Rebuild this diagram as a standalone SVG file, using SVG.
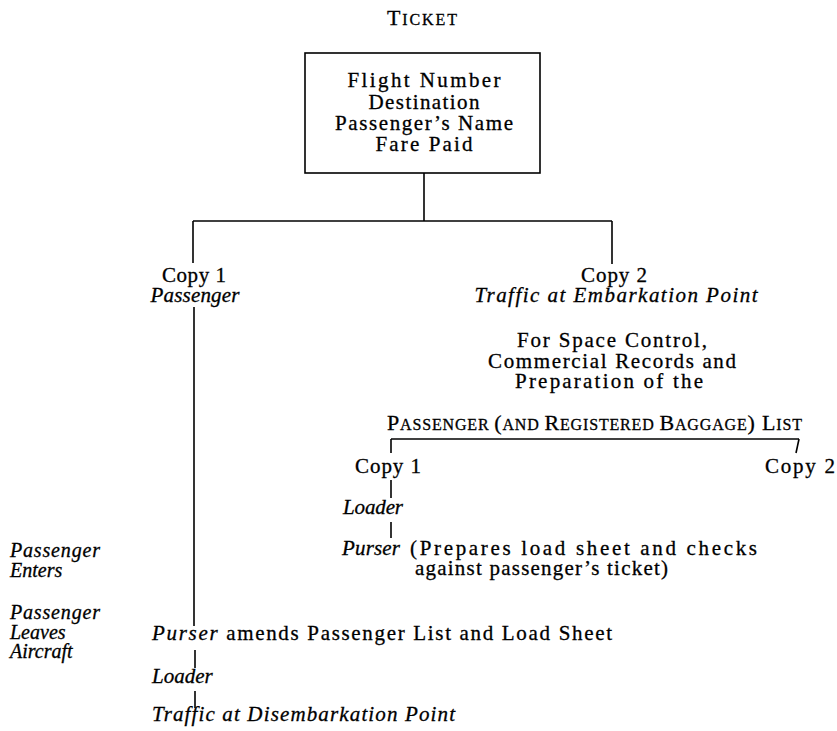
<svg xmlns="http://www.w3.org/2000/svg" width="837" height="731" viewBox="0 0 837 731">
<style>
text{font-family:"Liberation Serif","Times New Roman",serif;font-size:21px;fill:#000;stroke:#000;stroke-width:0.3;}
.it{font-style:italic;}
.c{text-anchor:middle;}
.sc{font-size:16px;}
.cap{font-size:22px;}
.side{font-size:20px;}
.ln{stroke:#000;stroke-width:1.6;fill:none;}
</style>
<rect width="837" height="731" fill="#fff"/>
<g id="connectors">
<line class="ln" x1="424" y1="173" x2="424" y2="221"/>
<line class="ln" x1="193" y1="221" x2="612" y2="221"/>
<line class="ln" x1="193" y1="221" x2="193" y2="263"/>
<line class="ln" x1="612" y1="221" x2="612" y2="264"/>
<line class="ln" x1="194" y1="307" x2="194" y2="626"/>
<line class="ln" x1="195" y1="650" x2="195" y2="668"/>
<line class="ln" x1="195" y1="691" x2="195" y2="708"/>
<line class="ln" x1="391" y1="439" x2="799" y2="439"/>
<line class="ln" x1="391" y1="439" x2="391" y2="453"/>
<line class="ln" x1="799" y1="439" x2="796" y2="453"/>
<line class="ln" x1="391" y1="480" x2="391" y2="498"/>
<line class="ln" x1="391" y1="522" x2="391" y2="538"/>
</g>
<g id="ticket-title">
<text x="422" y="25" class="c" textLength="70" lengthAdjust="spacing"><tspan class="cap">T</tspan><tspan class="sc">ICKET</tspan></text>
</g>
<g id="ticket">
<rect x="305" y="53" width="235" height="120" class="ln"/>
<text x="424" y="87" class="c" textLength="153" lengthAdjust="spacing">Flight Number</text>
<text x="424" y="109" class="c" textLength="111" lengthAdjust="spacing">Destination</text>
<text x="424" y="130" class="c" textLength="178" lengthAdjust="spacing">Passenger’s Name</text>
<text x="424" y="151" class="c" textLength="97" lengthAdjust="spacing">Fare Paid</text>
</g>
<g id="copy1">
<text x="194" y="282" class="c" textLength="64" lengthAdjust="spacing">Copy 1</text>
<text x="195" y="302" class="c it" textLength="89" lengthAdjust="spacing">Passenger</text>
</g>
<g id="copy2">
<text x="614" y="282" class="c" textLength="66" lengthAdjust="spacing">Copy 2</text>
<text x="616" y="302" class="c it" textLength="283" lengthAdjust="spacing">Traffic at Embarkation Point</text>
</g>
<g id="space-control">
<text x="612" y="347" class="c" textLength="190" lengthAdjust="spacing">For Space Control,</text>
<text x="612" y="368" class="c" textLength="248" lengthAdjust="spacing">Commercial Records and</text>
<text x="609" y="388" class="c" textLength="188" lengthAdjust="spacing">Preparation of the</text>
</g>
<g id="passenger-list">
<text x="387" y="430" textLength="415" lengthAdjust="spacing"><tspan class="cap">P</tspan><tspan class="sc">ASSENGER </tspan><tspan class="cap">(</tspan><tspan class="sc">AND </tspan><tspan class="cap">R</tspan><tspan class="sc">EGISTERED </tspan><tspan class="cap">B</tspan><tspan class="sc">AGGAGE</tspan><tspan class="cap">) L</tspan><tspan class="sc">IST</tspan></text>
</g>
<g id="list-copy1">
<text x="421" y="473" style="text-anchor:end" textLength="66" lengthAdjust="spacing">Copy 1</text>
</g>
<g id="list-copy2">
<text x="835" y="473" style="text-anchor:end" textLength="70" lengthAdjust="spacing">Copy 2</text>
</g>
<g id="loader1">
<text x="343" y="514" class="it" textLength="60" lengthAdjust="spacing">Loader</text>
</g>
<g id="purser1">
<text x="342" y="555" class="it" textLength="58" lengthAdjust="spacing">Purser</text>
<text x="410" y="555" textLength="347" lengthAdjust="spacing">(Prepares load sheet and checks</text>
<text x="415" y="575" textLength="253" lengthAdjust="spacing">against passenger’s ticket)</text>
</g>
<g id="side-enters">
<text x="10" y="557" class="it side" textLength="90" lengthAdjust="spacing">Passenger</text>
<text x="10" y="577" class="it side">Enters</text>
</g>
<g id="side-leaves">
<text x="10" y="619" class="it side" textLength="90" lengthAdjust="spacing">Passenger</text>
<text x="10" y="639" class="it side">Leaves</text>
<text x="10" y="658" class="it side">Aircraft</text>
</g>
<g id="purser2">
<text x="152" y="640" textLength="460" lengthAdjust="spacing"><tspan class="it">Purser</tspan> amends Passenger List and Load Sheet</text>
</g>
<g id="loader2">
<text x="152" y="683" class="it">Loader</text>
</g>
<g id="traffic-dis">
<text x="152" y="721" class="it" textLength="303" lengthAdjust="spacing">Traffic at Disembarkation Point</text>
</g>
</svg>
